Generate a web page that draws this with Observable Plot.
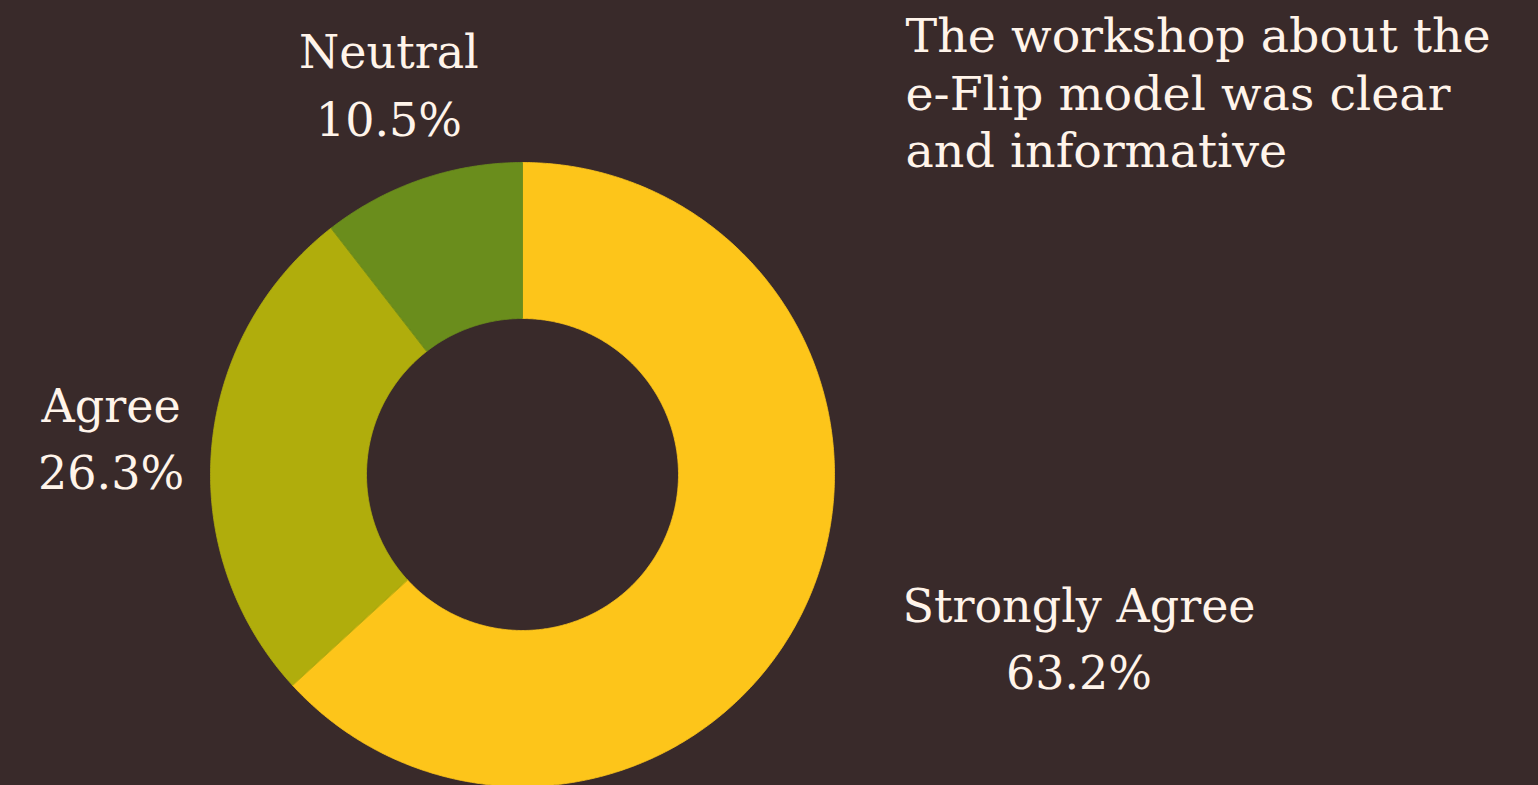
<!DOCTYPE html>
<html>
<head>
<meta charset="utf-8">
<script src="https://cdn.jsdelivr.net/npm/d3@7"></script>
<script src="https://cdn.jsdelivr.net/npm/@observablehq/plot@0.6"></script>
<style>
  html, body { margin: 0; padding: 0; background: #392a2a; overflow: hidden; }
  #chart svg { display: block; }
</style>
</head>
<body>
<div id="chart"></div>
<script>
// ---- data ----
const categories = ["Strongly Agree", "Agree", "Neutral"];
const values = [63.2, 26.3, 10.5];
const colors = ["#fdc51a", "#b0ad0c", "#6a8d1c"];
const title = "The workshop about the\ne-Flip model was clear\nand informative";

// ---- layout ----
const W = 1538, H = 785;
const R = 312;              // outer radius in px
const cx = 522, cy = 474;   // pie centre in px
const innerRatio = 0.5;
// label placement: radial distance (in outer radii) and angular nudge (deg)
const labelLayout = [
  {r: 1.875, nudge: -5.8},
  {r: 1.32, nudge: -2.2},
  {r: 1.27, nudge: -0.8}
];

const total = d3.sum(values);
const pie = d3.pie().sort(null).value(d => d)(values);

// slice polygons in unit (radius = 1) coordinates, y up
const slicePts = [];
pie.forEach((p, i) => {
  const n = Math.max(8, Math.ceil((p.endAngle - p.startAngle) * 120));
  for (let k = 0; k <= n; k++) {
    const a = p.startAngle + (p.endAngle - p.startAngle) * k / n;
    slicePts.push({label: categories[i], x: Math.sin(a), y: Math.cos(a)});
  }
  for (let k = n; k >= 0; k--) {
    const a = p.startAngle + (p.endAngle - p.startAngle) * k / n;
    slicePts.push({label: categories[i], x: innerRatio * Math.sin(a), y: innerRatio * Math.cos(a)});
  }
});

const labels = pie.map((p, i) => {
  const a = (p.startAngle + p.endAngle) / 2 + labelLayout[i].nudge * Math.PI / 180;
  const r = labelLayout[i].r;
  return {
    text: `${categories[i]}\n${(values[i] / total * 100).toFixed(1)}%`,
    x: r * Math.sin(a),
    y: r * Math.cos(a)
  };
});

const chart = Plot.plot({
  width: W,
  height: H,
  margin: 0,
  style: {background: "#392a2a", fontFamily: "'DejaVu Serif', serif"},
  x: {domain: [-cx / R, (W - cx) / R], axis: null},
  y: {domain: [-(H - cy) / R, cy / R], axis: null},
  color: {domain: categories, range: colors},
  marks: [
    Plot.line(slicePts, {
      x: "x", y: "y", z: "label",
      fill: "label", stroke: "label", strokeWidth: 0.8,
      curve: "linear-closed"
    }),
    Plot.text(labels, {
      x: "x", y: "y", text: "text", dy: -21,
      fill: "#fff4ea", fontSize: 46, lineHeight: 1.46,
      textAnchor: "middle", lineAnchor: "middle"
    }),
    Plot.text([title], {
      frameAnchor: "top-left", dx: 905, dy: 11,
      fill: "#fff4ea", fontSize: 47.5, lineHeight: 1.21
    })
  ]
});
document.getElementById("chart").appendChild(chart);
</script>
</body>
</html>
